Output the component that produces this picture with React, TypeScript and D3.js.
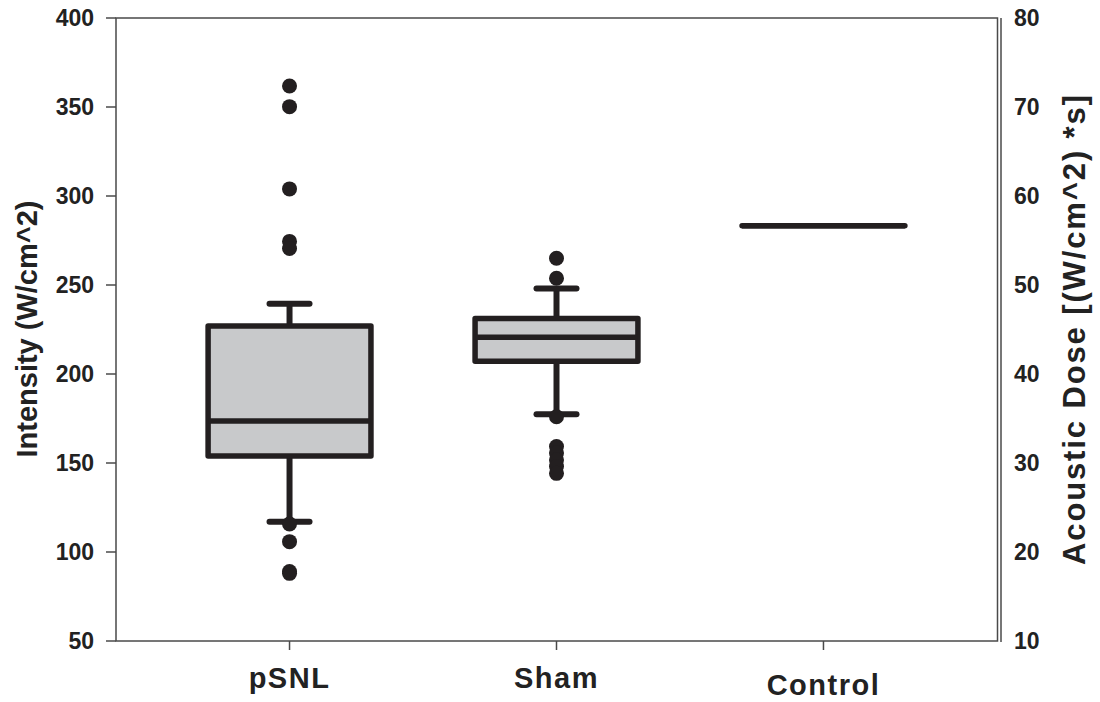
import React from 'react'
import * as d3 from 'd3'

const width = 1100
const height = 702
const margin = { top: 18, right: 103, bottom: 61, left: 116 }

const groups = ['pSNL', 'Sham', 'Control']
const q1 = [154, 207.2, 283.3]
const medians = [173.6, 220.7, 283.3]
const q3 = [227, 231.2, 283.3]
const whiskerLow = [117, 177.4, null]
const whiskerHigh = [239.5, 248, null]
const outliers = [
  [361.8, 350.2, 304, 274.5, 270.5, 115.7, 105.8, 89, 88],
  [265, 253.8, 176, 159.2, 155.6, 151.7, 148, 144.2],
  []
]

const intensityTicks = [50, 100, 150, 200, 250, 300, 350, 400]
const doseTicks = [10, 20, 30, 40, 50, 60, 70, 80]

const ink = '#231f20'
const axisColor = '#4a4a4a'
const boxFill = '#c8c9cb'
const font = '"Liberation Sans", Arial, Helvetica, sans-serif'

export default function App() {
  const x0 = margin.left
  const x1 = width - margin.right
  const y0 = height - margin.bottom
  const yTop = margin.top

  const x = d3.scalePoint<string>().domain(groups).range([x0, x1]).padding(0.65)
  const y = d3.scaleLinear().domain([50, 400]).range([y0, yTop])
  const yDose = d3.scaleLinear().domain([10, 80]).range([y0, yTop])

  const boxW = x.step() * 0.61
  const capW = 40

  const boxPath = (i: number) => {
    const cx = x(groups[i]) as number
    const p = d3.path()
    p.moveTo(cx - boxW / 2, y(q3[i]))
    p.lineTo(cx + boxW / 2, y(q3[i]))
    p.lineTo(cx + boxW / 2, y(q1[i]))
    p.lineTo(cx - boxW / 2, y(q1[i]))
    p.closePath()
    return p.toString()
  }

  return (
    <svg width={width} height={height} style={{ position: 'absolute', left: 0, top: 0, background: '#fff' }}
      fontFamily={font} fontWeight="bold">
      {/* frame */}
      <rect x={x0} y={yTop} width={x1 - x0 + 0.5} height={y0 - yTop} fill="none" stroke={axisColor} strokeWidth={1.5} />
      <line x1={x1 + 4} x2={x1 + 4} y1={yTop} y2={y0 + 1} stroke={axisColor} strokeWidth={1.5} />

      {/* left axis */}
      {intensityTicks.map(t => (
        <g key={t} transform={`translate(0,${y(t)})`}>
          <line x1={x0 - 10} x2={x0} stroke={axisColor} strokeWidth={1.5} />
          <text x={x0 - 22} dy="0.36em" textAnchor="end" fontSize={23} fill="#222">{t}</text>
        </g>
      ))}
      <text transform={`translate(37,329) rotate(-90)`} textAnchor="middle" fontSize={29} fill="#222">
        Intensity (W/cm^2)
      </text>

      {/* right axis */}
      {doseTicks.map(t => (
        <text key={t} x={x1 + 17} y={yDose(t)} dy="0.36em" fontSize={23} fill="#222">{t}</text>
      ))}
      <text transform={`translate(1085,330) rotate(-90)`} textAnchor="middle" fontSize={31} fill="#222"
        textLength={470} lengthAdjust="spacing">
        Acoustic Dose [(W/cm^2) *s]
      </text>

      {/* x axis */}
      {groups.map((g, i) => (
        <g key={g}>
          <line x1={x(g)} x2={x(g)} y1={y0} y2={y0 + 9} stroke={axisColor} strokeWidth={1.5} />
          <text x={x(g)} y={i === 2 ? 695 : 688} textAnchor="middle" fontSize={29} letterSpacing={1.5} fill="#222">{g}</text>
        </g>
      ))}

      {/* boxes */}
      {groups.map((g, i) => {
        const cx = x(g) as number
        return (
          <g key={g}>
            {whiskerHigh[i] != null && (
              <g stroke={ink} strokeWidth={6}>
                <line x1={cx} x2={cx} y1={y(q3[i])} y2={y(whiskerHigh[i] as number)} />
                <line x1={cx - capW / 2} x2={cx + capW / 2} y1={y(whiskerHigh[i] as number)} y2={y(whiskerHigh[i] as number)} strokeLinecap="round" />
              </g>
            )}
            {whiskerLow[i] != null && (
              <g stroke={ink} strokeWidth={6}>
                <line x1={cx} x2={cx} y1={y(q1[i])} y2={y(whiskerLow[i] as number)} />
                <line x1={cx - capW / 2} x2={cx + capW / 2} y1={y(whiskerLow[i] as number)} y2={y(whiskerLow[i] as number)} strokeLinecap="round" />
              </g>
            )}
            <path d={boxPath(i)} fill={boxFill} stroke={ink} strokeWidth={5.5} strokeLinejoin="round" />
            <line x1={cx - boxW / 2} x2={cx + boxW / 2} y1={y(medians[i])} y2={y(medians[i])} stroke={ink} strokeWidth={5.5} />
            {outliers[i].map((v, j) => (
              <circle key={j} cx={cx} cy={y(v)} r={7.5} fill={ink} />
            ))}
          </g>
        )
      })}
    </svg>
  )
}
